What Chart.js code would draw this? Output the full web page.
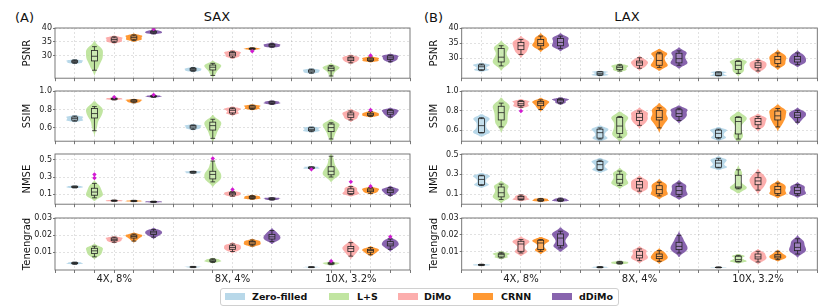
<!DOCTYPE html>
<html>
<head>
<meta charset="utf-8">
<title>SAX / LAX violin plots</title>
<script src="https://cdn.jsdelivr.net/npm/chart.js@4.4.1/dist/chart.umd.min.js"></script>
<style>
  body { margin: 0; background: #fff; font-family: "DejaVu Sans", sans-serif; }
  #fig { position: relative; width: 830px; height: 306px; overflow: hidden; }
  #fig canvas { position: absolute; }
  .txt { position: absolute; font-size: 13px; line-height: 15px; color: #111; white-space: nowrap; }
  .center { transform: translateX(-50%); }
  #legend { position: absolute; left: 220px; top: 288px; width: 397px; height: 16px; border: 1px solid #d0d0d0; border-radius: 3px; background: #fff; }
  .sw { position: absolute; top: 4px; width: 20px; height: 7px; }
  .lt { position: absolute; top: 1px; font-size: 9.5px; font-weight: bold; line-height: 14px; color: #111; white-space: nowrap; }
</style>
</head>
<body>
<div id="fig">
  <div class="txt" style="left:15px;top:10px">(A)</div>
  <div class="txt center" style="left:217px;top:9px">SAX</div>
  <div class="txt" style="left:424px;top:10px">(B)</div>
  <div class="txt center" style="left:627px;top:9px">LAX</div>
  <div id="legend"></div>
</div>
<script>
// ---- data ----
const methods = ["Zero-filled", "L+S", "DiMo", "CRNN", "dDiMo"];
const methodColors = ["#a6cee3", "#b2df8a", "#fb9a99", "#ff7f00", "#6a3d9a"];
const accelLabels = ["4X, 8%", "8X, 4%", "10X, 3.2%"];
const metricNames = ["PSNR", "SSIM", "NMSE", "Tenengrad"];
const tickValues = [[30, 35, 40], [0.6, 0.8, 1.0], [0.1, 0.3, 0.5], [0.01, 0.02, 0.03]];
const tickLabels = [["30", "35", "40"], ["0.6", "0.8", "1.0"], ["0.1", "0.3", "0.5"], ["0.01", "0.02", "0.03"]];
const saxRanges = [[21.7, 40], [0.455, 1.0], [-0.015, 0.567], [-0.0004, 0.03]];
const laxRanges = [[23.3, 40], [0.487, 1.0], [-0.003, 0.505], [-0.0006, 0.03]];

// each entry: [low whisker, q1, median, q3, high whisker]
// order: 4X (5 methods), 8X (5 methods), 10X (5 methods)
const saxPSNR = [
  [27.1, 27.4, 27.8, 28.1, 28.4], [24.6, 28.0, 29.7, 31.8, 33.2], [34.7, 35.2, 35.8, 36.4, 36.8], [35.4, 35.9, 36.5, 37.1, 37.5], [37.9, 38.2, 38.5, 38.8, 39.2],
  [24.2, 24.5, 24.9, 25.2, 25.6], [22.7, 24.7, 25.7, 26.5, 27.1], [29.2, 29.8, 30.5, 31.1, 31.5], [32.0, 32.3, 32.4, 32.6, 32.8], [33.0, 33.3, 33.7, 34.0, 34.4],
  [23.5, 23.9, 24.3, 24.7, 25.0], [22.5, 24.4, 25.2, 25.8, 26.3], [27.3, 28.1, 28.7, 29.3, 29.8], [27.8, 28.1, 28.6, 29.0, 29.4], [27.7, 28.5, 29.1, 29.8, 30.1]
];
const saxSSIM = [
  [0.672, 0.683, 0.700, 0.717, 0.728], [0.569, 0.707, 0.755, 0.810, 0.831], [0.903, 0.910, 0.914, 0.921, 0.924], [0.872, 0.883, 0.893, 0.903, 0.907], [0.931, 0.938, 0.941, 0.948, 0.952],
  [0.583, 0.597, 0.610, 0.624, 0.631], [0.486, 0.576, 0.624, 0.662, 0.693], [0.748, 0.762, 0.790, 0.807, 0.817], [0.800, 0.810, 0.824, 0.838, 0.845], [0.855, 0.866, 0.872, 0.883, 0.890],
  [0.559, 0.569, 0.583, 0.600, 0.607], [0.479, 0.559, 0.603, 0.641, 0.655], [0.686, 0.714, 0.741, 0.762, 0.783], [0.724, 0.734, 0.748, 0.759, 0.776], [0.717, 0.748, 0.769, 0.790, 0.800]
];
const saxNMSE = [
  [0.174, 0.178, 0.185, 0.193, 0.196], [0.059, 0.089, 0.126, 0.170, 0.226], [0.019, 0.022, 0.026, 0.030, 0.033], [0.015, 0.019, 0.022, 0.026, 0.030], [0.006, 0.009, 0.013, 0.017, 0.020],
  [0.344, 0.348, 0.356, 0.363, 0.367], [0.244, 0.278, 0.330, 0.367, 0.485], [0.078, 0.093, 0.107, 0.119, 0.133], [0.044, 0.052, 0.063, 0.074, 0.085], [0.033, 0.041, 0.048, 0.056, 0.059],
  [0.396, 0.400, 0.407, 0.415, 0.419], [0.300, 0.326, 0.367, 0.419, 0.541], [0.096, 0.107, 0.133, 0.163, 0.189], [0.111, 0.130, 0.148, 0.163, 0.178], [0.089, 0.119, 0.141, 0.159, 0.178]
];
const saxTen = [
  [0.0029, 0.0033, 0.0035, 0.0039, 0.0042], [0.0073, 0.0092, 0.0108, 0.0123, 0.0135], [0.0158, 0.0167, 0.0175, 0.0183, 0.0188], [0.0165, 0.0183, 0.0192, 0.0200, 0.0206], [0.0188, 0.0204, 0.0213, 0.0223, 0.0233],
  [0.0010, 0.0012, 0.0014, 0.0015, 0.0017], [0.0040, 0.0046, 0.0050, 0.0056, 0.0062], [0.0104, 0.0117, 0.0127, 0.0138, 0.0148], [0.0137, 0.0146, 0.0154, 0.0163, 0.0171], [0.0162, 0.0177, 0.0190, 0.0204, 0.0227],
  [0.0010, 0.0011, 0.0012, 0.0014, 0.0015], [0.0027, 0.0031, 0.0035, 0.0038, 0.0042], [0.0077, 0.0104, 0.0121, 0.0133, 0.0156], [0.0085, 0.0100, 0.0110, 0.0117, 0.0127], [0.0117, 0.0137, 0.0148, 0.0162, 0.0177]
];
const laxPSNR = [
  [25.9, 26.1, 27.1, 27.7, 28.0], [27.4, 28.7, 30.3, 33.2, 34.1], [31.2, 32.8, 34.1, 35.2, 36.2], [33.0, 34.1, 34.8, 36.2, 37.3], [33.2, 34.1, 35.2, 36.5, 37.3],
  [24.2, 24.4, 24.8, 25.4, 25.5], [25.7, 26.2, 26.9, 27.4, 27.8], [26.6, 27.6, 28.4, 29.0, 30.1], [26.9, 27.6, 29.2, 31.4, 31.9], [27.6, 28.4, 29.8, 31.6, 32.4],
  [24.1, 24.2, 24.7, 25.3, 25.4], [24.9, 26.2, 27.6, 28.9, 29.1], [25.7, 26.8, 27.6, 28.4, 29.2], [27.1, 28.2, 29.5, 30.5, 31.7], [27.8, 28.7, 29.6, 30.5, 31.7]
];
const laxSSIM = [
  [0.571, 0.577, 0.646, 0.717, 0.727], [0.633, 0.704, 0.779, 0.844, 0.876], [0.834, 0.850, 0.870, 0.893, 0.902], [0.811, 0.850, 0.876, 0.893, 0.909], [0.870, 0.886, 0.906, 0.915, 0.925],
  [0.509, 0.519, 0.574, 0.610, 0.623], [0.528, 0.567, 0.642, 0.730, 0.740], [0.649, 0.698, 0.730, 0.772, 0.795], [0.623, 0.704, 0.730, 0.802, 0.828], [0.698, 0.740, 0.769, 0.808, 0.824],
  [0.512, 0.525, 0.567, 0.600, 0.610], [0.509, 0.561, 0.688, 0.730, 0.737], [0.616, 0.655, 0.688, 0.720, 0.740], [0.633, 0.704, 0.746, 0.795, 0.821], [0.681, 0.730, 0.753, 0.779, 0.802]
];
const laxNMSE = [
  [0.187, 0.194, 0.248, 0.284, 0.290], [0.045, 0.071, 0.113, 0.171, 0.200], [0.039, 0.045, 0.058, 0.074, 0.090], [0.026, 0.032, 0.039, 0.048, 0.055], [0.026, 0.032, 0.039, 0.048, 0.058],
  [0.339, 0.348, 0.397, 0.429, 0.442], [0.187, 0.210, 0.248, 0.300, 0.332], [0.129, 0.161, 0.194, 0.226, 0.258], [0.081, 0.103, 0.145, 0.184, 0.219], [0.074, 0.097, 0.135, 0.177, 0.210],
  [0.365, 0.371, 0.413, 0.442, 0.461], [0.152, 0.161, 0.171, 0.290, 0.345], [0.139, 0.194, 0.232, 0.265, 0.316], [0.087, 0.106, 0.145, 0.177, 0.210], [0.087, 0.106, 0.135, 0.168, 0.194]
];
const laxTen = [
  [0.0020, 0.0022, 0.0024, 0.0026, 0.0028], [0.0065, 0.0071, 0.0084, 0.0090, 0.0098], [0.0094, 0.0104, 0.0147, 0.0163, 0.0173], [0.0104, 0.0114, 0.0153, 0.0169, 0.0173], [0.0124, 0.0137, 0.0182, 0.0206, 0.0222],
  [0.0007, 0.0008, 0.0010, 0.0012, 0.0014], [0.0029, 0.0033, 0.0037, 0.0041, 0.0045], [0.0049, 0.0065, 0.0080, 0.0104, 0.0118], [0.0045, 0.0061, 0.0073, 0.0088, 0.0108], [0.0094, 0.0114, 0.0133, 0.0157, 0.0198],
  [0.0007, 0.0008, 0.0009, 0.0010, 0.0012], [0.0041, 0.0045, 0.0055, 0.0075, 0.0080], [0.0041, 0.0059, 0.0071, 0.0088, 0.0104], [0.0055, 0.0065, 0.0075, 0.0084, 0.0104], [0.0088, 0.0108, 0.0127, 0.0153, 0.0178]
];

// outliers: [group index, value]
const saxPSNROut = [[4, 39.6], [8, 31.5], [13, 30.0]];
const saxSSIMOut = [[2, 0.934], [4, 0.958], [13, 0.793]];
const saxNMSEOut = [[1, 0.330], [1, 0.289], [6, 0.515], [7, 0.156], [10, 0.389], [12, 0.244], [13, 0.193]];
const saxTenOut = [[11, 0.0048], [14, 0.0190]];
const laxPSNROut = [];
const laxSSIMOut = [[2, 0.795]];
const laxNMSEOut = [];
const laxTenOut = [];

// ---- layout ----
const rowTops = [28, 91, 154, 218];
const PLOT_H = 52;
const fig = document.getElementById("fig");

const panels = [
  { stats: [saxPSNR, saxSSIM, saxNMSE, saxTen], outliers: [saxPSNROut, saxSSIMOut, saxNMSEOut, saxTenOut], ranges: saxRanges, left: 0, padL: 21, yW: 34, padR: 5 },
  { stats: [laxPSNR, laxSSIM, laxNMSE, laxTen], outliers: [laxPSNROut, laxSSIMOut, laxNMSEOut, laxTenOut], ranges: laxRanges, left: 415, padL: 13, yW: 33.7, padR: 12.7 }
];

function groupPos(i) { return Math.floor(i / 5) * 6 + (i % 5) + 1; }

function fade(hex, a) {
  const n = parseInt(hex.slice(1), 16);
  return `rgba(${(n >> 16) & 255},${(n >> 8) & 255},${n & 255},${a})`;
}

function erf(x) {
  const t = 1 / (1 + 0.3275911 * Math.abs(x));
  const y = 1 - (((((1.061405429 * t - 1.453152027) * t) + 1.421413741) * t - 0.284496736) * t + 0.254829592) * t * Math.exp(-x * x);
  return x >= 0 ? y : -y;
}
const Phi = z => 0.5 * (1 + erf(z / Math.SQRT2));

// smoothed density of the quartile summary, used as the violin outline
function profile(s) {
  const lo = s[0], hi = s[4];
  const h = Math.max(0.14 * (hi - lo), 1e-9);
  const dens = v => {
    let d = 0;
    for (let k = 0; k < 4; k++) {
      const a = s[k], b = s[k + 1];
      if (b - a > h * 0.05) d += 0.25 * (Phi((v - a) / h) - Phi((v - b) / h)) / (b - a);
      else d += 0.25 * Math.exp(-0.5 * ((v - a) / h) ** 2) / (h * Math.sqrt(2 * Math.PI));
    }
    return d;
  };
  const from = lo - 1.6 * h, to = hi + 1.6 * h, n = 48;
  const pts = [];
  let max = 0;
  for (let k = 0; k <= n; k++) {
    const v = from + (to - from) * k / n;
    const d = dens(v);
    max = Math.max(max, d);
    pts.push([v, d]);
  }
  return pts.map(p => [p[0], p[1] / max]);
}

const violinPlugin = {
  id: "violins",
  beforeDatasetsDraw(chart) {
    const { ctx, chartArea } = chart;
    const x = chart.scales.x, y = chart.scales.y;
    const stats = chart.data.datasets[0].stats;
    ctx.save();
    ctx.beginPath();
    ctx.rect(chartArea.left, chartArea.top, chartArea.width, chartArea.height);
    ctx.clip();
    stats.forEach((s, i) => {
      const pos = groupPos(i);
      const cx = x.getPixelForValue(pos);
      const half = x.getPixelForValue(pos + 0.43) - cx;
      const prof = profile(s);

      ctx.fillStyle = fade(methodColors[i % 5], 0.8);
      ctx.beginPath();
      prof.forEach((p, k) => {
        const py = y.getPixelForValue(p[0]);
        if (k === 0) ctx.moveTo(cx + p[1] * half, py); else ctx.lineTo(cx + p[1] * half, py);
      });
      for (let k = prof.length - 1; k >= 0; k--) ctx.lineTo(cx - prof[k][1] * half, y.getPixelForValue(prof[k][0]));
      ctx.closePath();
      ctx.fill();

      // box + whiskers
      const bw = x.getPixelForValue(pos + 0.15) - cx;
      const capW = bw * 0.8;
      const [lo, q1, md, q3, hi] = s.map(v => y.getPixelForValue(v));
      ctx.lineWidth = 0.8;
      ctx.strokeStyle = "#222";
      ctx.fillStyle = "rgba(255,255,255,0.2)";
      ctx.fillRect(cx - bw, q3, 2 * bw, q1 - q3);
      ctx.strokeRect(cx - bw, q3, 2 * bw, q1 - q3);
      ctx.beginPath();
      ctx.moveTo(cx, q3); ctx.lineTo(cx, hi);
      ctx.moveTo(cx, q1); ctx.lineTo(cx, lo);
      ctx.moveTo(cx - capW, hi); ctx.lineTo(cx + capW, hi);
      ctx.moveTo(cx - capW, lo); ctx.lineTo(cx + capW, lo);
      ctx.moveTo(cx - bw, md); ctx.lineTo(cx + bw, md);
      ctx.stroke();
    });
    ctx.restore();
  },
  afterDraw(chart) {
    const { ctx, chartArea } = chart;
    ctx.save();
    ctx.strokeStyle = "#6a6a6a";
    ctx.lineWidth = 0.9;
    ctx.strokeRect(chartArea.left, chartArea.top, chartArea.width, chartArea.height);
    ctx.restore();
  }
};

function makeRow(panel, r) {
  const bottom = r === 3;
  const xH = bottom ? 20 : 4;
  const cv = document.createElement("canvas");
  cv.width = 415;
  cv.height = 6 + PLOT_H + xH;
  cv.style.left = panel.left + "px";
  cv.style.top = (rowTops[r] - 6) + "px";
  fig.appendChild(cv);

  const gridColor = "rgba(0,0,0,0.15)";
  new Chart(cv, {
    type: "scatter",
    data: {
      datasets: [{
        data: panel.outliers[r].map(o => ({ x: groupPos(o[0]), y: o[1] })),
        stats: panel.stats[r],
        pointStyle: "rectRot",
        pointRadius: 2.2,
        backgroundColor: "#d21ad2",
        borderWidth: 0
      }]
    },
    options: {
      responsive: false,
      animation: false,
      events: [],
      layout: { padding: { left: panel.padL, right: panel.padR, top: 6, bottom: 0 } },
      plugins: { legend: { display: false }, tooltip: { enabled: false } },
      scales: {
        x: {
          type: "linear", min: 0, max: 18,
          afterBuildTicks: s => { s.ticks = Array.from({ length: 19 }, (_, i) => ({ value: i })); },
          afterFit: s => { s.height = xH; },
          ticks: {
            autoSkip: false, maxRotation: 0, minRotation: 0, padding: 0,
            font: { family: "DejaVu Sans", size: 10 }, color: "#222",
            callback: v => (bottom && v % 6 === 3) ? accelLabels[(v - 3) / 6] : ""
          },
          grid: {
            color: c => (c.tick && (c.tick.value === 0 || c.tick.value === 18)) ? "rgba(0,0,0,0)" : gridColor,
            lineWidth: 0.8, tickLength: 3, tickColor: "#555"
          },
          border: { display: false, dash: [2, 2] }
        },
        y: {
          min: panel.ranges[r][0], max: panel.ranges[r][1],
          afterBuildTicks: s => { s.ticks = tickValues[r].map(v => ({ value: v })); },
          afterFit: s => { s.width = panel.yW; },
          ticks: {
            padding: 1, font: { family: "DejaVu Sans", size: 8 }, color: "#222",
            callback: (v, i) => tickLabels[r][i]
          },
          grid: { color: gridColor, lineWidth: 0.8, tickLength: 2, tickColor: "#555" },
          border: { display: false, dash: [2, 2] },
          title: { display: true, text: metricNames[r], font: { family: "DejaVu Sans", size: 10 }, color: "#111", padding: 0 }
        }
      }
    },
    plugins: [violinPlugin]
  });
}

panels.forEach(p => { for (let r = 0; r < 4; r++) makeRow(p, r); });

// legend
const legend = document.getElementById("legend");
const swatchX = [4, 108, 177, 252, 331];
const textX = [31, 136, 203, 280, 358];
methods.forEach((m, i) => {
  const sw = document.createElement("div");
  sw.className = "sw";
  sw.style.left = swatchX[i] + "px";
  sw.style.background = fade(methodColors[i], 0.8);
  legend.appendChild(sw);
  const t = document.createElement("div");
  t.className = "lt";
  t.style.left = textX[i] + "px";
  t.textContent = m;
  legend.appendChild(t);
});
</script>
</body>
</html>
